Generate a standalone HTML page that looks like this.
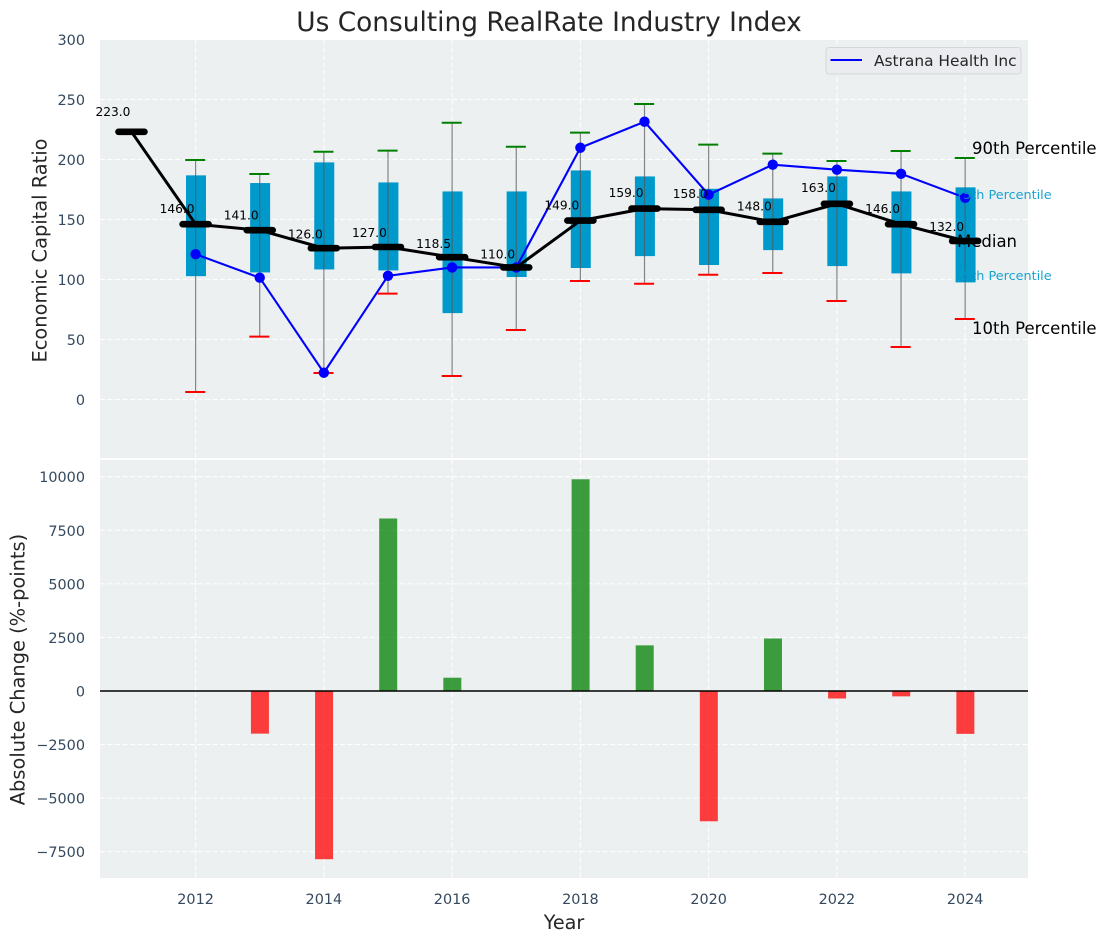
<!DOCTYPE html>
<html lang="en">
<head>
<meta charset="utf-8">
<title>Us Consulting RealRate Industry Index</title>
<style>
html,body{margin:0;padding:0;background:#fff;}
svg{display:block;font-family:"DejaVu Sans","Liberation Sans",sans-serif;}
</style>
</head>
<body>
<svg id="chart" xmlns="http://www.w3.org/2000/svg" width="1107" height="942" viewBox="0 0 1107 942">
  <rect x="0" y="0" width="1107" height="942" fill="#ffffff"/>
  <rect x="100" y="40" width="928" height="418" fill="#ecf0f1"/>
  <rect x="100" y="460" width="928" height="418" fill="#ecf0f1"/>
  <g id="grid"></g>
  <g id="bars"></g>
  <g id="boxes"></g>
  <g id="whiskers"></g>
  <g id="company"></g>
  <g id="median"></g>
  <g id="ticks"></g>
  <g id="labels"></g>
  <line x1="100" y1="691" x2="1028" y2="691" stroke="#000" stroke-width="1.4"/>

  <text x="549" y="31" text-anchor="middle" font-size="26.4" fill="#262626">Us Consulting RealRate Industry Index</text>
  <text transform="translate(46.5,250.5) rotate(-90)" text-anchor="middle" font-size="19.4" fill="#262626">Economic Capital Ratio</text>
  <text transform="translate(24.5,669.5) rotate(-90)" text-anchor="middle" font-size="19.4" fill="#262626">Absolute Change (%-points)</text>
  <text x="564" y="929" text-anchor="middle" font-size="19.2" fill="#262626">Year</text>

  <text x="972" y="154" font-size="16.5" fill="#000">90th Percentile</text>
  <text x="955" y="199" font-size="12.8" fill="#0099cc" fill-opacity="0.9">75th Percentile</text>
  <text x="957" y="247" font-size="16.5" fill="#000">Median</text>
  <text x="955" y="280" font-size="12.8" fill="#0099cc" fill-opacity="0.9">25th Percentile</text>
  <text x="972" y="334" font-size="16.5" fill="#000">10th Percentile</text>

  <g>
    <rect x="826" y="47.5" width="195" height="26.5" rx="3" fill="#ebecf0" stroke="#d6d6d8" stroke-width="1"/>
    <line x1="830.5" y1="60" x2="862" y2="60" stroke="#0000ff" stroke-width="2"/>
    <text x="874" y="66" font-size="15.4" fill="#262626">Astrana Health Inc</text>
  </g>
</svg>
<script>
const years = [2012,2013,2014,2015,2016,2017,2018,2019,2020,2021,2022,2023,2024];
const medianYears = [2011,2012,2013,2014,2015,2016,2017,2018,2019,2020,2021,2022,2023,2024];
const medianValues = [223,146,141,126,127,118.5,110,149,159,158,148,163,146,132];
const medianLabels = ["223.0","146.0","141.0","126.0","127.0","118.5","110.0","149.0","159.0","158.0","148.0","163.0","146.0","132.0"];
const p90 = [199.5,187.8,206.4,207.3,230.5,210.5,222.3,246.2,212.3,204.8,198.7,207,201.2];
const p75 = [186.7,180.3,197.5,180.8,173.3,173.3,190.8,185.8,175.5,167.5,185.8,173.3,176.7];
const p25 = [102.7,105.8,108.3,107.5,71.9,102,109.5,119.4,112,124.4,111.1,105,97.5];
const p10 = [6.2,52.3,22,88.1,19.5,57.8,98.7,96.4,103.9,105.3,82,43.7,67];
const companyValues = [121,101.4,22.2,103,110,110,209.7,231.4,170.6,195.6,191.4,188,168];
const changeValues = [0,-1990,-7850,8050,620,0,9880,2130,-6080,2450,-350,-250,-2000];
const xTicks = [2012,2014,2016,2018,2020,2022,2024];
const yTicksTop = [0,50,100,150,200,250,300];
const yTicksBottom = [-7500,-5000,-2500,0,2500,5000,7500,10000];

const NS = 'http://www.w3.org/2000/svg';
const xScale = v => 195.6 + (v - 2012) * 64.13;
const yTop = v => 399.4 - v * 1.2;
const yBottom = v => 691 - v * 0.02143;

function make(parent, tag, attrs, text) {
  const el = document.createElementNS(NS, tag);
  for (const k in attrs) el.setAttribute(k, attrs[k]);
  if (text !== undefined) el.textContent = text;
  document.getElementById(parent).appendChild(el);
  return el;
}

/* grid */
const gridStyle = {stroke:'#ffffff', 'stroke-width':1.1, 'stroke-dasharray':'5 2.5', 'stroke-opacity':0.9};
xTicks.forEach(t => {
  const a = make('grid','line',Object.assign({x1:xScale(t),x2:xScale(t),y1:40,y2:458},gridStyle));
  
  
  const b = make('grid','line',Object.assign({x1:xScale(t),x2:xScale(t),y1:460,y2:878},gridStyle));
  
  
});
yTicksTop.forEach(t => {
  const a = make('grid','line',Object.assign({x1:100,x2:1028,y1:yTop(t),y2:yTop(t)},gridStyle));
  
  
});
yTicksBottom.forEach(t => {
  const a = make('grid','line',Object.assign({x1:100,x2:1028,y1:yBottom(t),y2:yBottom(t)},gridStyle));
  
  
});
const sep = make('grid','rect',{x:100,y:458,width:928,height:2,fill:'#ffffff'});



/* tick labels */
xTicks.forEach(t => {
  const el = make('ticks','text',{x:xScale(t),y:904,'text-anchor':'middle','font-size':14.4,fill:'#34495e'},String(t));
  
  
});
yTicksTop.forEach(t => {
  const el = make('ticks','text',{x:85,y:yTop(t)+5.5,'text-anchor':'end','font-size':14.4,fill:'#34495e'},String(t));
  
  
});
yTicksBottom.forEach(t => {
  const s = t < 0 ? '\u2212' + Math.abs(t) : String(t);
  const el = make('ticks','text',{x:85,y:yBottom(t)+5.5,'text-anchor':'end','font-size':14.4,fill:'#34495e'},s);
  
  
});

/* change bars */
years.forEach((yr,i) => {
  const v = changeValues[i];
  if (v === 0) return;
  const y0 = yBottom(Math.max(v,0)), y1 = yBottom(Math.min(v,0));
  const el = make('bars','rect',{x:xScale(yr)-8.8,y:y0,width:18,height:y1-y0,fill:v>0?'#008000':'#ff0000','fill-opacity':0.75});
  
  
});

/* percentile boxes */
years.forEach((yr,i) => {
  const y0 = yTop(p75[i]), y1 = yTop(p25[i]);
  const el = make('boxes','rect',{x:xScale(yr)-9.6,y:y0,width:20,height:y1-y0,fill:'#0099cc'});
  
  
});

/* whiskers */
years.forEach((yr,i) => {
  const x = xScale(yr);
  const w = make('whiskers','line',{x1:x,x2:x,y1:yTop(p90[i]),y2:yTop(p10[i]),stroke:'#555','stroke-opacity':0.7,'stroke-width':1.2});
  
  
  const hi = make('whiskers','line',{x1:x-10.4,x2:x+9.6,y1:yTop(p90[i]),y2:yTop(p90[i]),stroke:'#008000','stroke-width':2});
  
  
  const lo = make('whiskers','line',{x1:x-10.4,x2:x+9.6,y1:yTop(p10[i]),y2:yTop(p10[i]),stroke:'#ff0000','stroke-width':2});
  
  
});

/* company line */
const companyLine = make('company','polyline',{points:years.map((yr,i)=>xScale(yr)+','+yTop(companyValues[i])).join(' '),fill:'none',stroke:'#0000ff','stroke-width':2.1});


years.forEach((yr,i) => {
  const el = make('company','circle',{cx:xScale(yr),cy:yTop(companyValues[i]),r:5.2,fill:'#0000ff'});
  
  
});

/* median line */
const medianLine = make('median','polyline',{points:medianYears.map((yr,i)=>xScale(yr)+','+yTop(medianValues[i])).join(' '),fill:'none',stroke:'#000','stroke-width':3});


medianYears.forEach((yr,i) => {
  const x = xScale(yr), y = yTop(medianValues[i]);
  const el = make('median','line',{x1:x-13,x2:x+13,y1:y,y2:y,stroke:'#000','stroke-width':6.6,'stroke-linecap':'round'});
  
  
});

/* median labels */
medianYears.forEach((yr,i) => {
  const v = medianValues[i];
  const el = make('labels','text',{x:xScale(yr)-18.5,y:yTop(v)-1.2*(v*0.05+5.5)+4.4,'text-anchor':'middle','font-size':12.2,fill:'#000'},medianLabels[i]);
  
  
});
</script>
</body>
</html>
